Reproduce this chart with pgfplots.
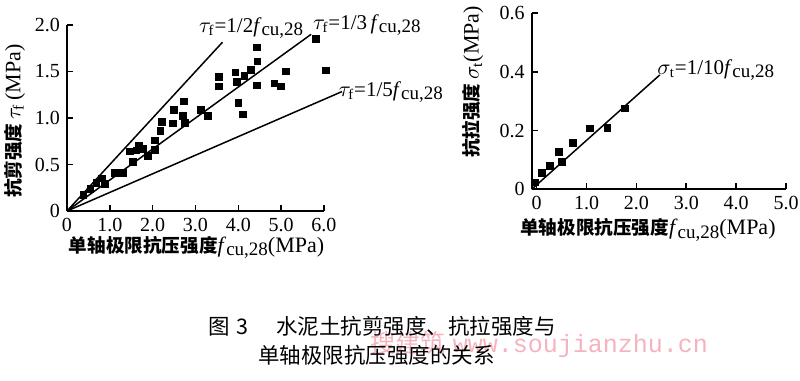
\documentclass[border=0pt]{standalone}
\usepackage{fontspec}
\setmainfont{Liberation Serif}
\newfontfamily\cjk{Noto Sans CJK SC}
\newfontfamily\wmono{Liberation Mono}
\usepackage{pgfplots}
\pgfplotsset{compat=1.18}
\definecolor{wm}{RGB}{244,180,190}
\newcommand{\fcu}{\textit{f}\raisebox{-0.35ex}{\fontsize{9.5}{9.5}\selectfont cu,28}}
\newcommand{\zh}[1]{{\cjk\bfseries\fontsize{9.3}{9.3}\selectfont #1}}
\pgfplotsset{
  mystyle/.style={
    scale only axis, anchor=south west,
    enlargelimits=false, clip=false,
    axis x line*=bottom, axis y line*=left,
    axis line style={line width=0.9pt,-},
    tick style={line width=0.8pt, black}, tick align=inside, major tick length=3pt,
    ticklabel style={font=\fontsize{10}{10}\selectfont},
    /pgf/number format/assume math mode=true,
    label style={font=\fontsize{11}{11}\selectfont},
  }
}
\begin{document}
\begin{tikzpicture}
\path[use as bounding box] (0,0) rectangle (400pt,190.5pt);
% ---------------- left panel ----------------
\begin{axis}[mystyle,
  at={(33.5pt,85pt)}, width=128.5pt, height=93pt,
  xmin=0, xmax=6, ymin=0, ymax=2,
  xtick={0,1,2,3,4,5,6}, xticklabels={0,1.0,2.0,3.0,4.0,5.0,6.0},
  ytick={0,0.5,1,1.5,2}, yticklabels={0,0.5,1.0,1.5,2.0},
  xlabel={\zh{单轴极限抗压强度}\fcu(MPa)},
  ylabel={\zh{抗剪强度}\,$\tau_{\mathrm{f}}$\,(MPa)},
  xlabel style={at={(axis description cs:0.504,-0.195)}, anchor=center},
  ylabel style={at={(axis description cs:-0.204,0.484)}, anchor=center},
]
\addplot[line width=0.75pt, no marks] coordinates {(0,0) (3.63,1.815)};
\addplot[line width=0.75pt, no marks] coordinates {(0,0) (5.70,1.90)};
\addplot[line width=0.75pt, no marks] coordinates {(0,0) (6.42,1.284)};
\addplot[only marks, mark=square*, mark size=1.65pt] coordinates {
(0.38,0.17) (0.55,0.24) (0.69,0.30) (0.81,0.35) (0.88,0.29)
(1.12,0.41) (1.30,0.41) (1.47,0.64) (1.54,0.53) (1.62,0.65)
(1.68,0.70) (1.77,0.67) (1.89,0.59) (2.05,0.66) (2.05,0.76)
(2.18,0.86) (2.22,0.96) (2.47,0.94) (2.50,1.09) (2.71,1.02)
(2.73,1.18) (2.75,0.95) (3.12,1.09) (3.29,1.02) (3.54,1.44)
(3.54,1.34) (3.93,1.49) (3.97,1.39) (4.00,1.16) (4.10,1.04)
(4.14,1.45) (4.30,1.52) (4.43,1.76) (4.45,1.61) (4.43,1.35)
(4.84,1.37) (4.99,1.34) (5.11,1.50) (5.81,1.85) (6.05,1.51)
};
\node[font=\fontsize{10.5}{10.5}\selectfont] at (axis cs:4.30,1.97) {$\tau_{\mathrm{f}}$=1/2\fcu};
\node[font=\fontsize{10.5}{10.5}\selectfont] at (axis cs:7.0,2.0) {$\tau_{\mathrm{f}}$=1/3\,\fcu};
\node[font=\fontsize{10.5}{10.5}\selectfont] at (axis cs:7.56,1.28) {$\tau_{\mathrm{f}}$=1/5\fcu};
\end{axis}
% ---------------- right panel ----------------
\begin{axis}[mystyle,
  at={(265.85pt,95.85pt)}, width=127.15pt, height=88pt,
  xmin=-0.1, xmax=5, ymin=0, ymax=0.6,
  xtick={0,1,2,3,4,5}, xticklabels={0,1.0,2.0,3.0,4.0,5.0},
  ytick={0,0.2,0.4,0.6}, yticklabels={0,0.2,0.4,0.6},
  xlabel={\zh{单轴极限抗压强度}\fcu(MPa)},
  ylabel={\zh{抗拉强度}\,$\sigma_{\mathrm{t}}$(MPa)},
  xlabel style={at={(axis description cs:0.457,-0.231)}, anchor=center},
  ylabel style={at={(axis description cs:-0.231,0.61)}, anchor=center},
]
\addplot[line width=0.75pt, no marks] coordinates {(-0.1,0) (2.47,0.39)};
\addplot[only marks, mark=square*, mark size=1.65pt] coordinates {
(-0.03,0.023) (0.10,0.055) (0.27,0.080) (0.45,0.128) (0.50,0.094)
(0.73,0.159) (1.07,0.208) (1.42,0.210) (1.77,0.276)
};
\node[font=\fontsize{10.5}{10.5}\selectfont] at (axis cs:3.59,0.407) {$\sigma_{\mathrm{t}}$=1/10\fcu};
\end{axis}
% ---------------- caption ----------------
\node[anchor=west, text=wm, inner sep=0pt] at (185pt,18pt)
  {\cjk\fontsize{12.5}{12.5}\selectfont 搜建筑\hspace{0.3em}{\wmono www.soujianzhu.cn}};
\node[anchor=west, inner sep=0pt] at (104pt,27.5pt)
  {\cjk\fontsize{10.75}{10.75}\selectfont 图\hspace{0.3em}3\hspace{1.3em}水泥土抗剪强度、抗拉强度与};
\node[anchor=west, inner sep=0pt] at (129pt,13pt)
  {\cjk\fontsize{10.75}{10.75}\selectfont 单轴极限抗压强度的关系};
\end{tikzpicture}
\end{document}
